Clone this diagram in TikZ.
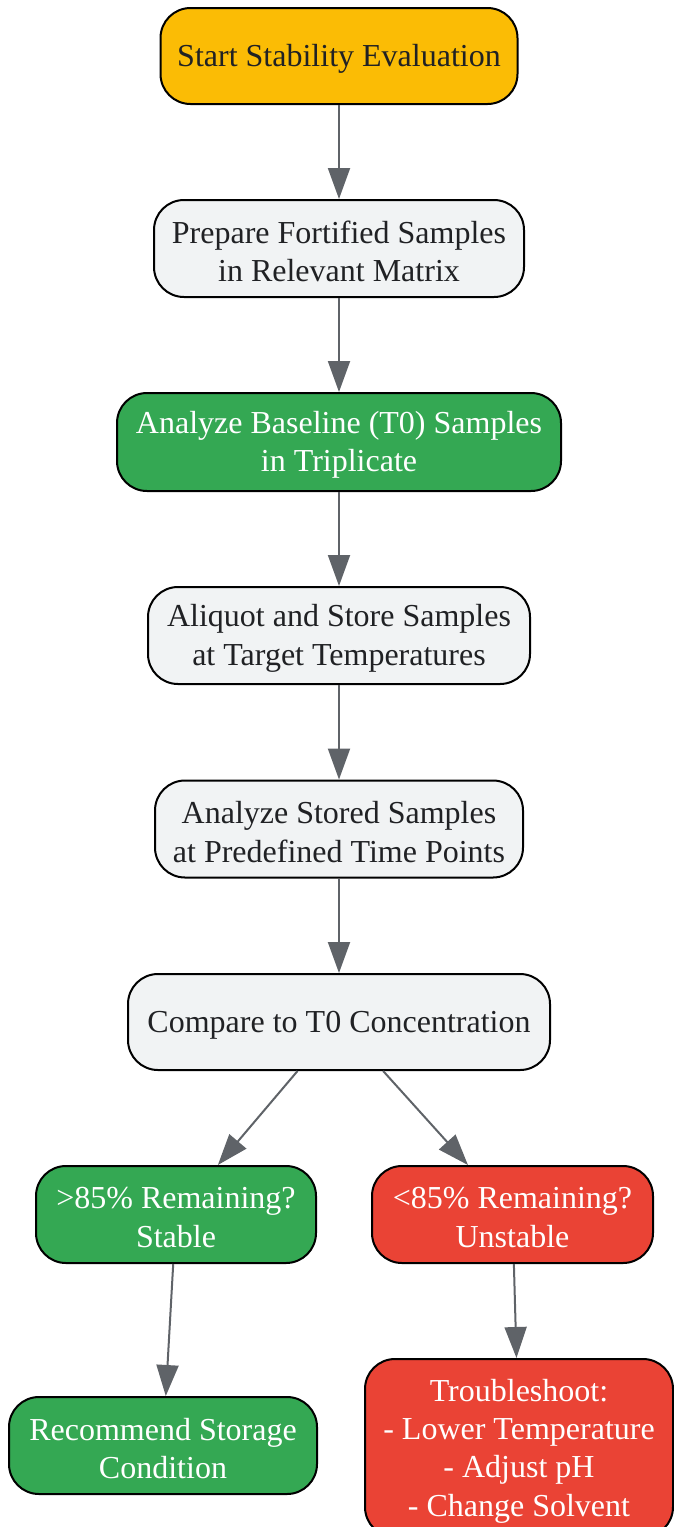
\documentclass[tikz,border=0pt]{standalone}
\usepackage{fontspec}
\setmainfont{Liberation Serif}
\usetikzlibrary{arrows.meta}
\definecolor{cyellow}{HTML}{FBBC05}
\definecolor{cgreen}{HTML}{34A853}
\definecolor{cred}{HTML}{EA4335}
\definecolor{cgray}{HTML}{F1F3F4}
\definecolor{ctext}{HTML}{202124}
\definecolor{cedge}{HTML}{5F6368}
\tikzset{
  box/.style={draw=black, line width=2pt, rounded corners=30pt, inner sep=0pt},
  txt/.style={align=center, inner sep=0pt, yshift=-3pt, font=\fontsize{32}{38.4}\selectfont},
  graybox/.style={box, fill=cgray},
  yellowbox/.style={box, fill=cyellow},
  greenbox/.style={box, fill=cgreen},
  redbox/.style={box, fill=cred},
  dtxt/.style={txt, text=ctext},
  wtxt/.style={txt, text=white},
  link/.style={draw=cedge, line width=2pt, -{Triangle[length=31pt,width=22pt]}}
}
\begin{document}
\begin{tikzpicture}[x=1pt,y=-1pt]
\useasboundingbox (0,0) rectangle (673,1527);
\node[yellowbox, minimum width=357pt, minimum height=96pt,
  label={[dtxt]center:{Start Stability Evaluation}}] (n1) at (339,56) {};
\node[graybox, minimum width=370pt, minimum height=97pt,
  label={[dtxt]center:{Prepare Fortified Samples\\in Relevant Matrix}}] (n2) at (339,248.5) {};
\node[greenbox, minimum width=444pt, minimum height=98pt,
  label={[wtxt]center:{Analyze Baseline (T0) Samples\\in Triplicate}}] (n3) at (339,442) {};
\node[graybox, minimum width=382pt, minimum height=97pt,
  label={[dtxt]center:{Aliquot and Store Samples\\at Target Temperatures}}] (n4) at (339,635.5) {};
\node[graybox, minimum width=368pt, minimum height=97pt,
  label={[dtxt]center:{Analyze Stored Samples\\at Predefined Time Points}}] (n5) at (339,829) {};
\node[graybox, minimum width=422pt, minimum height=96pt,
  label={[dtxt]center:{Compare to T0 Concentration}}] (n6) at (339,1022) {};
\node[greenbox, minimum width=280pt, minimum height=97pt,
  label={[wtxt]center:{>85\% Remaining?\\Stable}}] (n7) at (176,1214.5) {};
\node[redbox, minimum width=281pt, minimum height=97pt,
  label={[wtxt]center:{<85\% Remaining?\\Unstable}}] (n8) at (512.5,1214.5) {};
\node[greenbox, minimum width=308pt, minimum height=97pt,
  label={[wtxt]center:{Recommend Storage\\Condition}}] (n9) at (163,1445.5) {};
\node[redbox, minimum width=308pt, minimum height=178pt,
  label={[wtxt]center:{Troubleshoot:\\- Lower Temperature\\- Adjust pH\\- Change Solvent}}] (n10) at (519,1448) {};
\draw[link] (n1) -- (n2);
\draw[link] (n2) -- (n3);
\draw[link] (n3) -- (n4);
\draw[link] (n4) -- (n5);
\draw[link] (n5) -- (n6);
\draw[link] (n6) -- (n7);
\draw[link] (n6) -- (n8);
\draw[link] (n7) -- (n9);
\draw[link] (n8) -- (n10);
\end{tikzpicture}
\end{document}
